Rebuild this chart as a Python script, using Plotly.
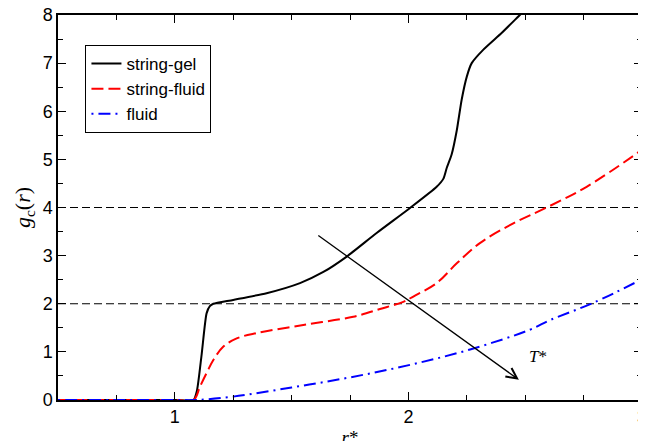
import plotly.graph_objects as go

# string-gel (black solid)
gel_x = [0.5, 1.0, 1.08, 1.095, 1.115, 1.136, 1.15, 1.165, 1.25, 1.393, 1.536, 1.636,
         1.736, 1.864, 2.007, 2.121, 2.15, 2.164, 2.185, 2.207, 2.228, 2.25, 2.271,
         2.321, 2.40, 2.477, 2.55]
gel_y = [0.0, 0.0, 0.0, 0.2, 0.95, 1.8, 1.95, 2.0, 2.08, 2.22, 2.43, 2.66,
         2.98, 3.47, 3.99, 4.43, 4.6, 4.82, 5.1, 5.6, 6.24, 6.72, 7.0,
         7.28, 7.63, 8.0, 8.35]

# string-fluid (red dashed)
sf_x = [0.5, 1.0, 1.08, 1.108, 1.14, 1.165, 1.208, 1.265, 1.35, 1.55, 1.764, 1.878,
        1.978, 2.021, 2.121, 2.207, 2.306, 2.449, 2.592, 2.763, 3.0]
sf_y = [0.0, 0.0, 0.0, 0.28, 0.6, 0.83, 1.11, 1.28, 1.39, 1.56, 1.73, 1.89,
        2.04, 2.15, 2.43, 2.84, 3.26, 3.67, 4.0, 4.43, 5.2]

# fluid (blue dash-dot)
fl_x = [0.5, 1.0, 1.09, 1.25, 1.5, 1.75, 2.007, 2.264, 2.52, 2.606, 2.792, 3.0]
fl_y = [0.0, 0.0, 0.0, 0.07, 0.26, 0.47, 0.73, 1.05, 1.46, 1.66, 2.02, 2.51]

ref_levels = [2, 4]
x_range = [0.5, 3.0]
y_range = [0, 8]
x_ticks = [1, 2, 3]
y_ticks = [0, 1, 2, 3, 4, 5, 6, 7, 8]

arrow_start = (1.608, 3.44)
arrow_end = (2.473, 0.42)
label_pos = (2.555, 0.9)

fig = go.Figure()

for lv in ref_levels:
    fig.add_trace(go.Scatter(x=x_range, y=[lv, lv], mode="lines",
                             line=dict(color="black", width=1.2, dash="8px,4px"),
                             showlegend=False, hoverinfo="skip"))

fig.add_trace(go.Scatter(x=gel_x, y=gel_y, mode="lines", name="string-gel",
                         line=dict(color="black", width=2, shape="spline", smoothing=0.6)))
fig.add_trace(go.Scatter(x=sf_x, y=sf_y, mode="lines", name="string-fluid",
                         line=dict(color="red", width=2, dash="12px,5px",
                                   shape="spline")))
fig.add_trace(go.Scatter(x=fl_x, y=fl_y, mode="lines", name="fluid",
                         line=dict(color="blue", width=2, dash="2px,5px,12px,5px",
                                   shape="spline")))

fig.add_annotation(x=arrow_end[0], y=arrow_end[1], ax=arrow_start[0], ay=arrow_start[1],
                   xref="x", yref="y", axref="x", ayref="y", text="",
                   showarrow=True, arrowhead=5, arrowsize=1.6, arrowwidth=1.3,
                   arrowcolor="black")
fig.add_annotation(x=label_pos[0], y=label_pos[1], xref="x", yref="y",
                   text="<i>T</i>*", showarrow=False,
                   font=dict(family="Liberation Serif", size=17, color="black"))

axis_common = dict(showgrid=False, zeroline=False, showline=True, linecolor="black",
                   linewidth=1.5, mirror="ticks", ticks="inside", ticklen=8,
                   tickwidth=1.2, tickcolor="black", automargin=False,
                   ticklabeloverflow="allow",
                   tickfont=dict(family="Liberation Sans", size=18, color="black"))

fig.update_xaxes(range=x_range, tickmode="array", tickvals=x_ticks,
                 ticktext=[str(v) for v in x_ticks],
                 minor=dict(dtick=0.25, tick0=0, ticks="inside", ticklen=5, tickcolor="black"),
                 title=dict(text="<i>r</i>*", standoff=4,
                            font=dict(family="Liberation Serif", size=19, color="black")),
                 **axis_common)
fig.update_yaxes(range=y_range, tickmode="array", tickvals=y_ticks,
                 minor=dict(dtick=0.5, tick0=0, ticks="inside", ticklen=5, tickcolor="black"),
                 title=dict(text="<i>g</i><sub>c</sub>(<i>r</i>)", standoff=6,
                            font=dict(family="Liberation Serif", size=22, color="black")),
                 **axis_common)

fig.update_layout(
    width=646, height=441,
    margin=dict(l=50, r=12, t=7, b=49),
    paper_bgcolor="white", plot_bgcolor="white",
    legend=dict(x=0.047, y=0.922, xanchor="left", yanchor="top",
                bordercolor="black", borderwidth=1, bgcolor="white",
                font=dict(family="Liberation Sans", size=17, color="black"),
                tracegroupgap=0, itemwidth=30),
)

fig.write_html("out.html")
